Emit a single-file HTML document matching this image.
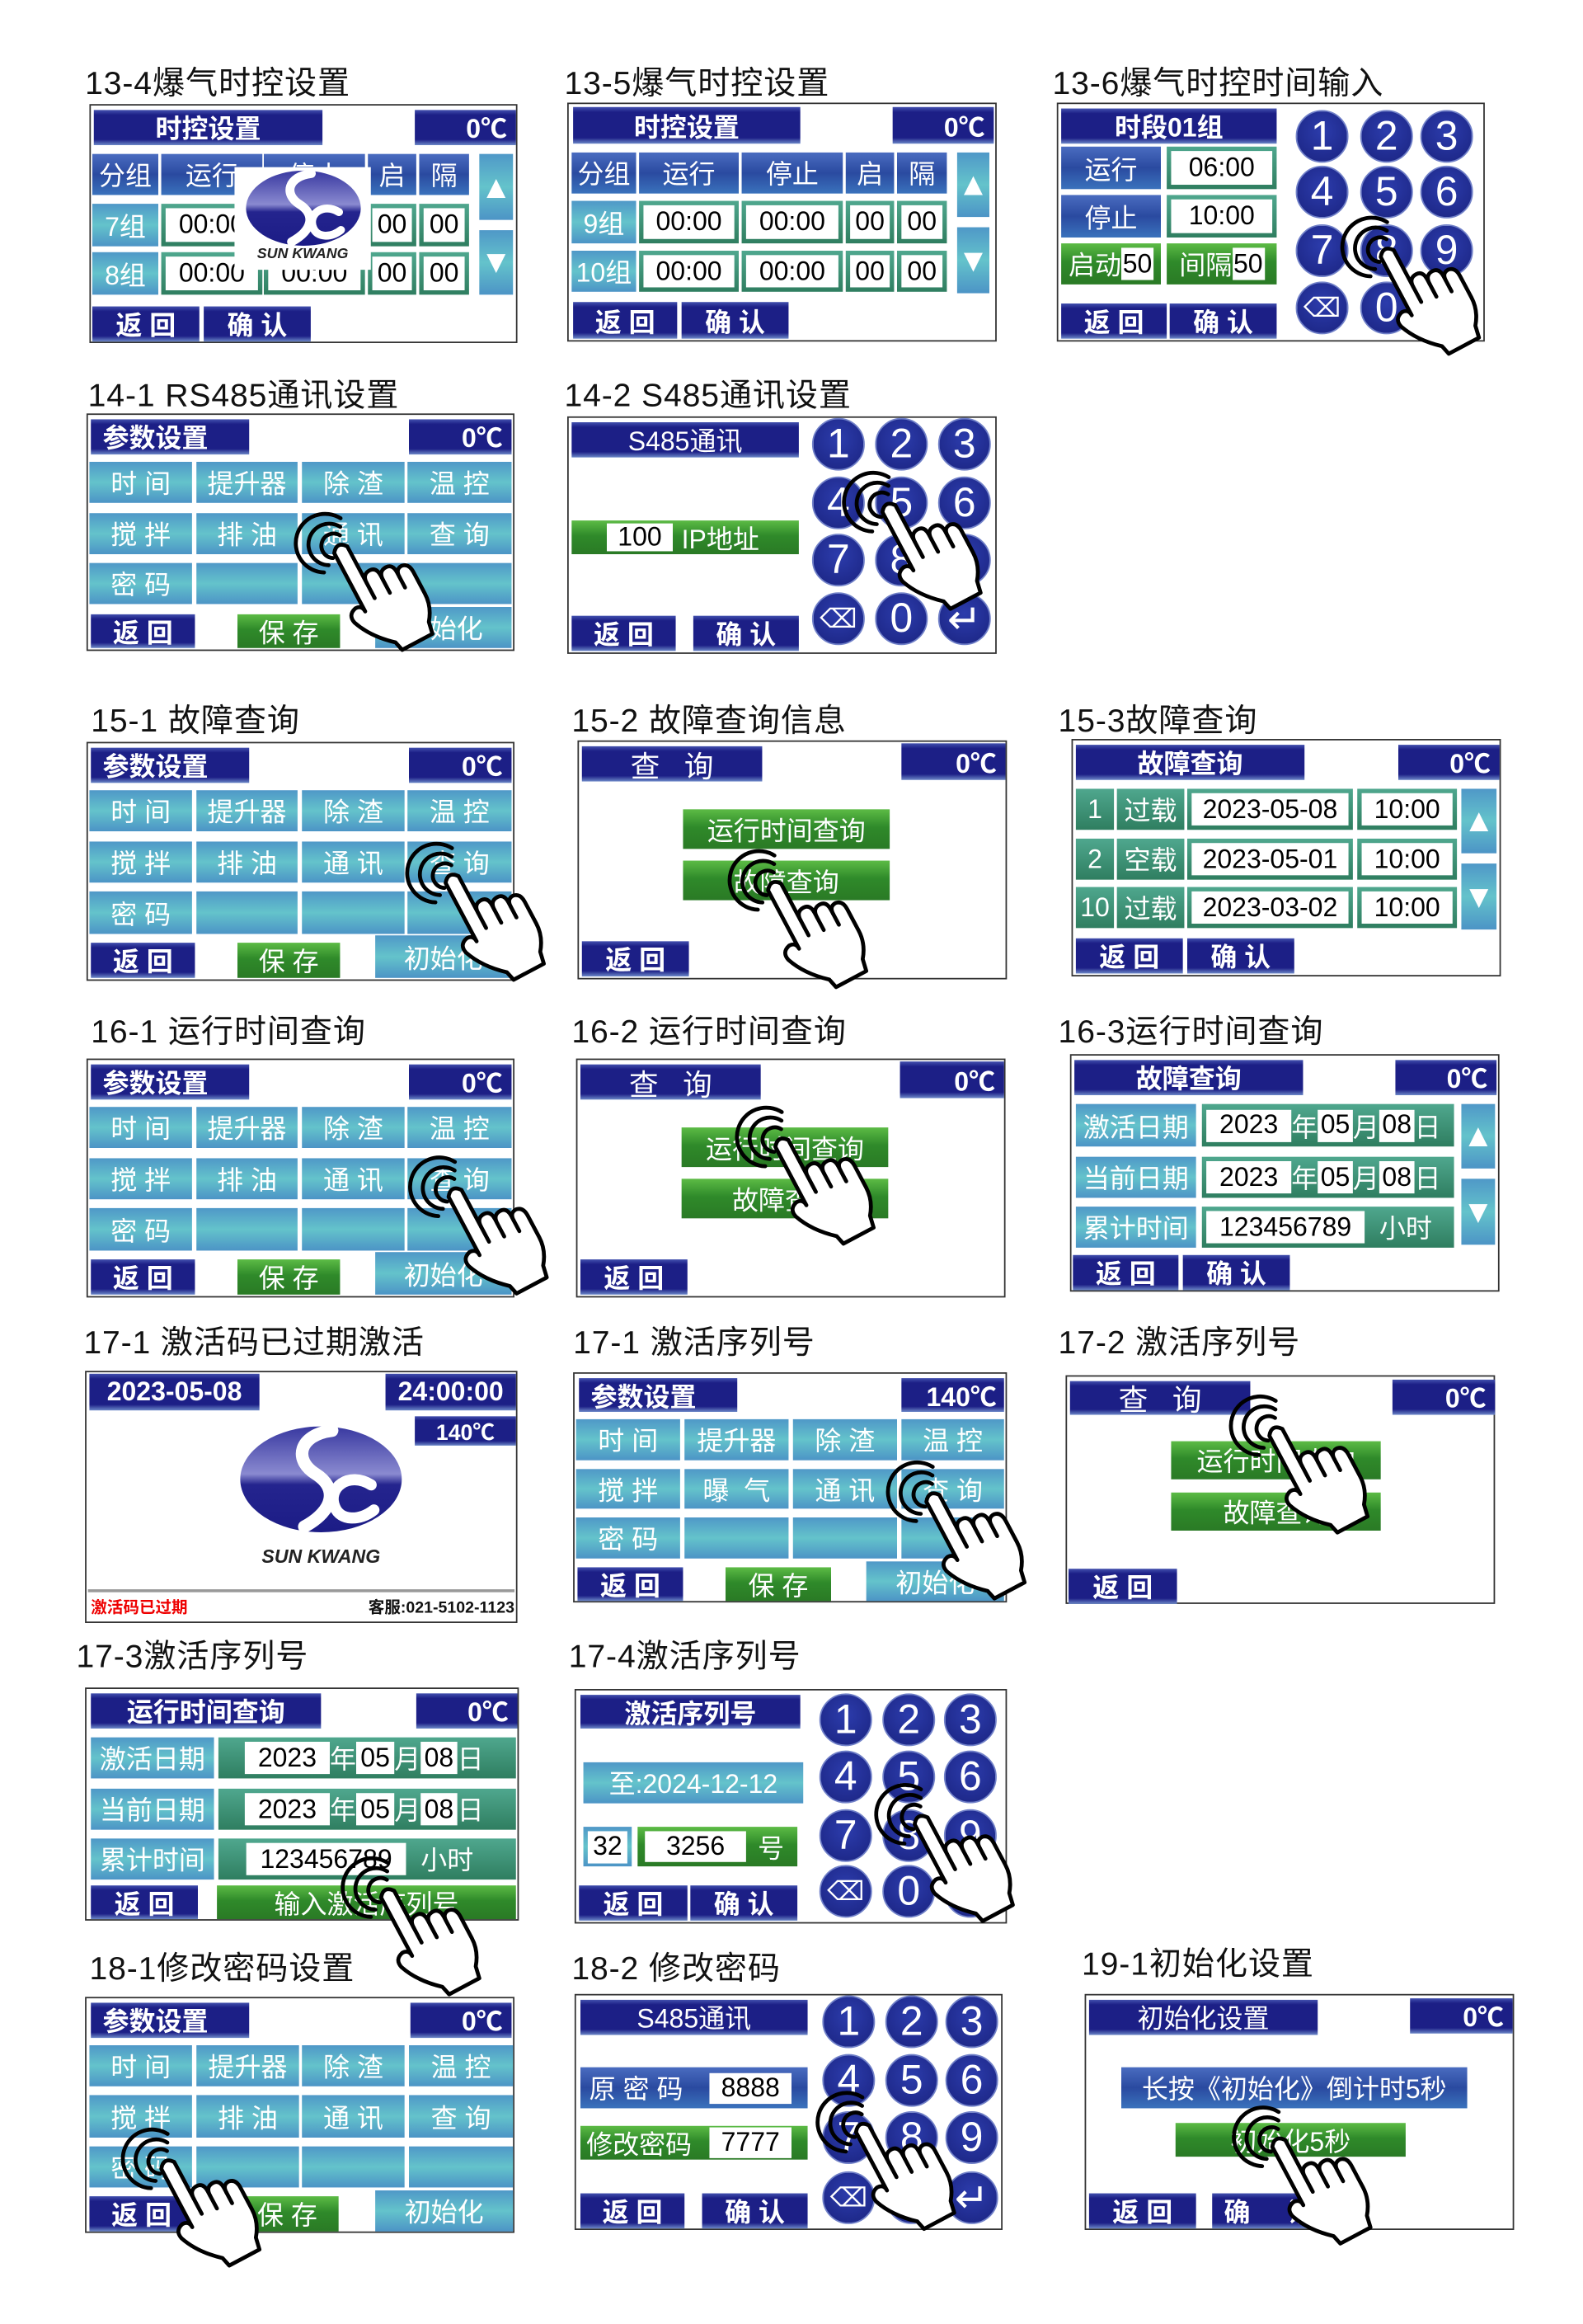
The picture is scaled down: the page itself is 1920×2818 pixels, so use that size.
<!DOCTYPE html>
<html><head><meta charset="utf-8">
<style>
body{margin:0;background:#fff;width:1920px;height:2818px;overflow:hidden}
#s{position:absolute;left:0;top:0;width:1080px;height:1585px;transform:scale(1.777778);transform-origin:0 0;font-family:"Liberation Sans","Noto Sans CJK SC",sans-serif}
.t{position:absolute;font-size:22px;color:#111;white-space:nowrap;letter-spacing:0.5px}
.p{position:absolute;border:1px solid #333;background:#fff;box-sizing:border-box}
.p>div{position:absolute;display:flex;align-items:center;justify-content:center;color:#fff;box-sizing:border-box;white-space:nowrap;font-size:18px}
.d{background:linear-gradient(#4250ae,#1c1f86 14%,#1c1f86 84%,#6c88c8);font-weight:bold}
.m{background:linear-gradient(#4a6cc0,#2a4aa0 50%,#3a72bc)}
.l{background:linear-gradient(#4f98c8,#64c3cb 50%,#4c94c6)}
.g{background:linear-gradient(#4fa78e,#2f7e60)}
.gg{background:linear-gradient(#5cbb45,#2f8a2a 45%,#2a7a25)}
.w{background:#fff;color:#000;display:inline-flex;align-items:center;justify-content:center}
.g>.w{width:calc(100% - 6px);height:calc(100% - 6px)}
.p>.k{border-radius:50%;background:radial-gradient(circle at 50% 40%,#2c3cac,#1a2380);border:1.5px solid #7080c8;font-size:28px;width:36px;height:36px;margin:-1px}
.hd{position:absolute;width:125px;height:142px;overflow:visible}
</style></head><body><div id="s">
<svg width="0" height="0" style="position:absolute"><defs>
<symbol id="hd" viewBox="-40 -40 150 170" overflow="visible">
<g transform="rotate(-28 16 6)" fill="none" stroke="#000" stroke-width="3.2" stroke-linecap="round">
<path d="M21,-2.7 A10,10 0 1,0 7.3,11"/>
<path d="M24.5,-8.7 A17,17 0 1,0 1.3,14.5"/>
<path d="M28,-14.8 A24,24 0 1,0 -4.8,18"/>
<path fill="#fff" stroke-linejoin="round" d="M10,48 L10,8 Q16,0 22,8 L22,42 Q22,34 29,34 Q35,34 35,42 L35,46 Q35,38 42,38 Q48,38 48,46 L48,50 Q48,43 54,43 Q60,44 60,52 L60,72 Q60,84 52,94 L50,104 L22,104 L20,96 Q4,82 -2,66 Q-4,58 4,56 Q10,56 10,62 Z"/>
<path d="M22,42 L22,56 M35,46 L35,58 M48,50 L48,60"/>
</g></symbol>
<symbol id="lg" viewBox="0 0 120 80">
<defs><linearGradient id="lgg" x1="0" y1="0" x2="0" y2="1"><stop offset="0" stop-color="#3838a0"/><stop offset="0.45" stop-color="#8a8ad0"/><stop offset="0.55" stop-color="#24248e"/><stop offset="1" stop-color="#1c1c86"/></linearGradient></defs>
<ellipse cx="60" cy="40" rx="58" ry="38" fill="url(#lgg)"/>
<path d="M68,5 C44,8 40,26 56,36 C72,46 70,62 48,74" fill="none" stroke="#fff" stroke-width="9" stroke-linecap="round"/>
<path d="M96,44 C80,34 64,46 70,60 C74,70 88,70 98,62" fill="none" stroke="#fff" stroke-width="8" stroke-linecap="round"/>
</symbol>
</defs></svg>

<div class="t" style="left:58px;top:39px">13-4爆气时控设置</div>
<div class="t" style="left:385px;top:39px">13-5爆气时控设置</div>
<div class="t" style="left:718px;top:39px">13-6爆气时控时间输入</div>
<div class="t" style="left:60px;top:252px">14-1 RS485通讯设置</div>
<div class="t" style="left:385px;top:252px">14-2 S485通讯设置</div>
<div class="t" style="left:62px;top:474px">15-1 故障查询</div>
<div class="t" style="left:390px;top:474px">15-2 故障查询信息</div>
<div class="t" style="left:722px;top:474px">15-3故障查询</div>
<div class="t" style="left:62px;top:686px">16-1 运行时间查询</div>
<div class="t" style="left:390px;top:686px">16-2 运行时间查询</div>
<div class="t" style="left:722px;top:686px">16-3运行时间查询</div>
<div class="t" style="left:57px;top:898px">17-1 激活码已过期激活</div>
<div class="t" style="left:391px;top:898px">17-1 激活序列号</div>
<div class="t" style="left:722px;top:898px">17-2 激活序列号</div>
<div class="t" style="left:52px;top:1112px">17-3激活序列号</div>
<div class="t" style="left:388px;top:1112px">17-4激活序列号</div>
<div class="t" style="left:61px;top:1325px">18-1修改密码设置</div>
<div class="t" style="left:390px;top:1325px">18-2 修改密码</div>
<div class="t" style="left:738px;top:1322px">19-1初始化设置</div>

<!-- P1 -->
<div class="p" style="left:61px;top:71px;width:292px;height:163px">
<div class="d" style="left:2px;top:3px;width:156px;height:24px">时控设置</div>
<div class="d" style="left:221px;top:3px;width:69px;height:24px;justify-content:flex-end;padding-right:6px">0℃</div>
<div class="m" style="left:1px;top:33px;width:45px;height:28px">分组</div>
<div class="m" style="left:48px;top:33px;width:69px;height:28px">运行</div>
<div class="m" style="left:118px;top:33px;width:69px;height:28px">停止</div>
<div class="m" style="left:189px;top:33px;width:33px;height:28px">启</div>
<div class="m" style="left:224px;top:33px;width:34px;height:28px">隔</div>
<div class="l" style="left:1px;top:67px;width:45px;height:29px">7组</div>
<div class="g" style="left:48px;top:67px;width:69px;height:29px"><span class="w">00:00</span></div>
<div class="g" style="left:118px;top:67px;width:69px;height:29px"><span class="w">00:00</span></div>
<div class="g" style="left:189px;top:67px;width:33px;height:29px"><span class="w">00</span></div>
<div class="g" style="left:224px;top:67px;width:34px;height:29px"><span class="w">00</span></div>
<div class="l" style="left:1px;top:100px;width:45px;height:29px">8组</div>
<div class="g" style="left:48px;top:100px;width:69px;height:29px"><span class="w">00:00</span></div>
<div class="g" style="left:118px;top:100px;width:69px;height:29px"><span class="w">00:00</span></div>
<div class="g" style="left:189px;top:100px;width:33px;height:29px"><span class="w">00</span></div>
<div class="g" style="left:224px;top:100px;width:34px;height:29px"><span class="w">00</span></div>
<div class="l" style="left:265px;top:33px;width:23px;height:45px;font-size:22px">▲</div>
<div class="l" style="left:265px;top:85px;width:23px;height:44px;font-size:22px">▼</div>
<div class="d" style="left:1px;top:137px;width:73px;height:24px">返 回</div>
<div class="d" style="left:77px;top:137px;width:73px;height:24px">确 认</div>
<div style="left:98px;top:42px;width:93px;height:70px;background:#fff;display:block">
<svg style="position:absolute;left:6px;top:1px" width="82" height="54"><use href="#lg"/></svg>
<span style="position:absolute;left:0;top:54px;width:93px;text-align:center;color:#222;font-size:10px;font-weight:bold;font-style:italic">SUN KWANG</span></div>
</div>

<!-- P2 -->
<div class="p" style="left:387px;top:70px;width:293px;height:163px">
<div class="d" style="left:3px;top:2px;width:155px;height:25px">时控设置</div>
<div class="d" style="left:221px;top:2px;width:69px;height:25px;justify-content:flex-end;padding-right:6px">0℃</div>
<div class="m" style="left:2px;top:33px;width:44px;height:28px">分组</div>
<div class="m" style="left:48px;top:33px;width:68px;height:28px">运行</div>
<div class="m" style="left:118px;top:33px;width:69px;height:28px">停止</div>
<div class="m" style="left:189px;top:33px;width:33px;height:28px">启</div>
<div class="m" style="left:224px;top:33px;width:34px;height:28px">隔</div>
<div class="l" style="left:2px;top:66px;width:44px;height:29px">9组</div>
<div class="g" style="left:48px;top:66px;width:68px;height:29px"><span class="w">00:00</span></div>
<div class="g" style="left:118px;top:66px;width:69px;height:29px"><span class="w">00:00</span></div>
<div class="g" style="left:189px;top:66px;width:33px;height:29px"><span class="w">00</span></div>
<div class="g" style="left:224px;top:66px;width:34px;height:29px"><span class="w">00</span></div>
<div class="l" style="left:2px;top:100px;width:44px;height:28px">10组</div>
<div class="g" style="left:48px;top:100px;width:68px;height:28px"><span class="w">00:00</span></div>
<div class="g" style="left:118px;top:100px;width:69px;height:28px"><span class="w">00:00</span></div>
<div class="g" style="left:189px;top:100px;width:33px;height:28px"><span class="w">00</span></div>
<div class="g" style="left:224px;top:100px;width:34px;height:28px"><span class="w">00</span></div>
<div class="l" style="left:265px;top:33px;width:22px;height:44px;font-size:22px">▲</div>
<div class="l" style="left:265px;top:84px;width:22px;height:45px;font-size:22px">▼</div>
<div class="d" style="left:3px;top:135px;width:71px;height:25px">返 回</div>
<div class="d" style="left:77px;top:135px;width:73px;height:25px">确 认</div>
</div>

<!-- P3 -->
<div class="p" style="left:721px;top:70px;width:292px;height:163px">
<div class="d" style="left:2px;top:3px;width:147px;height:24px">时段01组</div>
<div class="m" style="left:2px;top:29px;width:68px;height:29px">运行</div>
<div class="g" style="left:74px;top:29px;width:75px;height:29px"><span class="w">06:00</span></div>
<div class="m" style="left:2px;top:62px;width:68px;height:29px">停止</div>
<div class="g" style="left:74px;top:62px;width:75px;height:29px"><span class="w">10:00</span></div>
<div class="gg" style="left:2px;top:95px;width:68px;height:28px">启动<span class="w" style="width:22px;height:22px">50</span></div>
<div class="gg" style="left:74px;top:95px;width:75px;height:28px">间隔<span class="w" style="width:22px;height:22px">50</span></div>
<div class="d" style="left:2px;top:136px;width:72px;height:24px">返 回</div>
<div class="d" style="left:76px;top:136px;width:73px;height:24px">确 认</div>
<div class="k" style="left:163px;top:5px">1</div><div class="k" style="left:207px;top:5px">2</div><div class="k" style="left:248px;top:5px">3</div>
<div class="k" style="left:163px;top:43px">4</div><div class="k" style="left:207px;top:43px">5</div><div class="k" style="left:248px;top:43px">6</div>
<div class="k" style="left:163px;top:83px">7</div><div class="k" style="left:207px;top:83px">8</div><div class="k" style="left:248px;top:83px">9</div>
<div class="k" style="left:163px;top:122px;font-size:18px">⌫</div><div class="k" style="left:207px;top:122px">0</div><div class="k" style="left:248px;top:122px">↵</div>
</div>

<!-- P4 -->
<div class="p" style="left:59px;top:282px;width:292px;height:162px">
<div class="d" style="left:2px;top:3px;width:108px;height:24px;justify-content:flex-start;padding-left:8px">参数设置</div>
<div class="d" style="left:219px;top:3px;width:70px;height:24px;justify-content:flex-end;padding-right:6px">0℃</div>
<div class="l" style="left:1px;top:32px;width:70px;height:28px">时 间</div><div class="l" style="left:74px;top:32px;width:69px;height:28px">提升器</div><div class="l" style="left:146px;top:32px;width:70px;height:28px">除 渣</div><div class="l" style="left:218px;top:32px;width:71px;height:28px">温 控</div>
<div class="l" style="left:1px;top:67px;width:70px;height:28px">搅 拌</div><div class="l" style="left:74px;top:67px;width:69px;height:28px">排 油</div><div class="l" style="left:146px;top:67px;width:70px;height:28px">通 讯</div><div class="l" style="left:218px;top:67px;width:71px;height:28px">查 询</div>
<div class="l" style="left:1px;top:101px;width:70px;height:28px">密 码</div><div class="l" style="left:74px;top:101px;width:69px;height:28px"></div><div class="l" style="left:146px;top:101px;width:70px;height:28px"></div><div class="l" style="left:218px;top:101px;width:71px;height:28px"></div>
<div class="d" style="left:2px;top:136px;width:71px;height:23px">返 回</div>
<div class="gg" style="left:102px;top:136px;width:70px;height:23px">保 存</div>
<div class="l" style="left:196px;top:131px;width:93px;height:28px">初始化</div>
</div>

<!-- P5 -->
<div class="p" style="left:387px;top:284px;width:293px;height:162px">
<div class="d" style="left:2px;top:3px;width:155px;height:24px;font-weight:normal">S485通讯</div>
<div class="gg" style="left:2px;top:70px;width:155px;height:23px;justify-content:flex-start;padding-left:24px"><span class="w" style="width:45px;height:19px;margin-right:6px">100</span>IP地址</div>
<div class="d" style="left:2px;top:135px;width:71px;height:24px">返 回</div>
<div class="d" style="left:85px;top:135px;width:72px;height:24px">确 认</div>
<div class="k" style="left:167px;top:1px">1</div><div class="k" style="left:210px;top:1px">2</div><div class="k" style="left:253px;top:1px">3</div>
<div class="k" style="left:167px;top:41px">4</div><div class="k" style="left:210px;top:41px">5</div><div class="k" style="left:253px;top:41px">6</div>
<div class="k" style="left:167px;top:80px">7</div><div class="k" style="left:210px;top:80px">8</div><div class="k" style="left:253px;top:80px">9</div>
<div class="k" style="left:167px;top:120px;font-size:18px">⌫</div><div class="k" style="left:210px;top:120px">0</div><div class="k" style="left:253px;top:120px">↵</div>
</div>

<!-- P6 -->
<div class="p" style="left:59px;top:506px;width:292px;height:163px">
<div class="d" style="left:2px;top:3px;width:108px;height:24px;justify-content:flex-start;padding-left:8px">参数设置</div>
<div class="d" style="left:219px;top:3px;width:70px;height:24px;justify-content:flex-end;padding-right:6px">0℃</div>
<div class="l" style="left:1px;top:32px;width:70px;height:28px">时 间</div><div class="l" style="left:74px;top:32px;width:69px;height:28px">提升器</div><div class="l" style="left:146px;top:32px;width:70px;height:28px">除 渣</div><div class="l" style="left:218px;top:32px;width:71px;height:28px">温 控</div>
<div class="l" style="left:1px;top:67px;width:70px;height:28px">搅 拌</div><div class="l" style="left:74px;top:67px;width:69px;height:28px">排 油</div><div class="l" style="left:146px;top:67px;width:70px;height:28px">通 讯</div><div class="l" style="left:218px;top:67px;width:71px;height:28px">查 询</div>
<div class="l" style="left:1px;top:101px;width:70px;height:29px">密 码</div><div class="l" style="left:74px;top:101px;width:69px;height:29px"></div><div class="l" style="left:146px;top:101px;width:70px;height:29px"></div><div class="l" style="left:218px;top:101px;width:71px;height:29px"></div>
<div class="d" style="left:2px;top:136px;width:71px;height:24px">返 回</div>
<div class="gg" style="left:102px;top:136px;width:70px;height:24px">保 存</div>
<div class="l" style="left:196px;top:131px;width:93px;height:29px">初始化</div>
</div>

<!-- P7 -->
<div class="p" style="left:394px;top:505px;width:293px;height:163px">
<div class="d" style="left:2px;top:3px;width:123px;height:24px;font-weight:normal;font-size:20px">查&nbsp;&nbsp;&nbsp;询</div>
<div class="d" style="left:220px;top:1px;width:71px;height:25px;justify-content:flex-end;padding-right:6px">0℃</div>
<div class="gg" style="left:71px;top:46px;width:141px;height:27px">运行时间查询</div>
<div class="gg" style="left:71px;top:81px;width:141px;height:27px">故障查询</div>
<div class="d" style="left:2px;top:136px;width:73px;height:24px">返 回</div>
</div>

<!-- P8 -->
<div class="p" style="left:731px;top:504px;width:293px;height:162px">
<div class="d" style="left:2px;top:3px;width:156px;height:24px">故障查询</div>
<div class="d" style="left:222px;top:3px;width:69px;height:24px;justify-content:flex-end;padding-right:6px">0℃</div>
<div class="g" style="left:2px;top:33px;width:26px;height:28px">1</div>
<div class="g" style="left:30px;top:33px;width:46px;height:28px">过载</div>
<div class="g" style="left:78px;top:33px;width:113px;height:28px"><span class="w">2023-05-08</span></div>
<div class="g" style="left:194px;top:33px;width:68px;height:28px"><span class="w">10:00</span></div>
<div class="g" style="left:2px;top:67px;width:26px;height:28px">2</div>
<div class="g" style="left:30px;top:67px;width:46px;height:28px">空载</div>
<div class="g" style="left:78px;top:67px;width:113px;height:28px"><span class="w">2023-05-01</span></div>
<div class="g" style="left:194px;top:67px;width:68px;height:28px"><span class="w">10:00</span></div>
<div class="g" style="left:2px;top:100px;width:26px;height:28px">10</div>
<div class="g" style="left:30px;top:100px;width:46px;height:28px">过载</div>
<div class="g" style="left:78px;top:100px;width:113px;height:28px"><span class="w">2023-03-02</span></div>
<div class="g" style="left:194px;top:100px;width:68px;height:28px"><span class="w">10:00</span></div>
<div class="l" style="left:265px;top:33px;width:24px;height:44px;font-size:22px">▲</div>
<div class="l" style="left:265px;top:84px;width:24px;height:45px;font-size:22px">▼</div>
<div class="d" style="left:2px;top:135px;width:73px;height:24px">返 回</div>
<div class="d" style="left:78px;top:135px;width:73px;height:24px">确 认</div>
</div>

<!-- P9 -->
<div class="p" style="left:59px;top:722px;width:292px;height:163px">
<div class="d" style="left:2px;top:3px;width:108px;height:24px;justify-content:flex-start;padding-left:8px">参数设置</div>
<div class="d" style="left:219px;top:3px;width:70px;height:24px;justify-content:flex-end;padding-right:6px">0℃</div>
<div class="l" style="left:1px;top:32px;width:70px;height:28px">时 间</div><div class="l" style="left:74px;top:32px;width:69px;height:28px">提升器</div><div class="l" style="left:146px;top:32px;width:70px;height:28px">除 渣</div><div class="l" style="left:218px;top:32px;width:71px;height:28px">温 控</div>
<div class="l" style="left:1px;top:67px;width:70px;height:28px">搅 拌</div><div class="l" style="left:74px;top:67px;width:69px;height:28px">排 油</div><div class="l" style="left:146px;top:67px;width:70px;height:28px">通 讯</div><div class="l" style="left:218px;top:67px;width:71px;height:28px">查 询</div>
<div class="l" style="left:1px;top:101px;width:70px;height:29px">密 码</div><div class="l" style="left:74px;top:101px;width:69px;height:29px"></div><div class="l" style="left:146px;top:101px;width:70px;height:29px"></div><div class="l" style="left:218px;top:101px;width:71px;height:29px"></div>
<div class="d" style="left:2px;top:136px;width:71px;height:24px">返 回</div>
<div class="gg" style="left:102px;top:136px;width:70px;height:24px">保 存</div>
<div class="l" style="left:196px;top:131px;width:93px;height:29px">初始化</div>
</div>

<!-- P10 -->
<div class="p" style="left:393px;top:722px;width:293px;height:163px">
<div class="d" style="left:2px;top:3px;width:123px;height:24px;font-weight:normal;font-size:20px">查&nbsp;&nbsp;&nbsp;询</div>
<div class="d" style="left:220px;top:1px;width:71px;height:25px;justify-content:flex-end;padding-right:6px">0℃</div>
<div class="gg" style="left:71px;top:46px;width:141px;height:27px">运行时间查询</div>
<div class="gg" style="left:71px;top:81px;width:141px;height:27px">故障查询</div>
<div class="d" style="left:2px;top:136px;width:73px;height:24px">返 回</div>
</div>

<!-- P11 -->
<div class="p" style="left:730px;top:719px;width:293px;height:162px">
<div class="d" style="left:2px;top:3px;width:156px;height:24px">故障查询</div>
<div class="d" style="left:221px;top:3px;width:69px;height:24px;justify-content:flex-end;padding-right:6px">0℃</div>
<div class="l" style="left:3px;top:33px;width:82px;height:29px">激活日期</div>
<div class="g" style="left:89px;top:33px;width:172px;height:29px;justify-content:flex-start;padding-left:3px"><span class="w" style="width:58px;height:22px">2023</span>年<span class="w" style="width:24px;height:22px">05</span>月<span class="w" style="width:24px;height:22px">08</span>日</div>
<div class="l" style="left:3px;top:69px;width:82px;height:28px">当前日期</div>
<div class="g" style="left:89px;top:69px;width:172px;height:28px;justify-content:flex-start;padding-left:3px"><span class="w" style="width:58px;height:22px">2023</span>年<span class="w" style="width:24px;height:22px">05</span>月<span class="w" style="width:24px;height:22px">08</span>日</div>
<div class="l" style="left:3px;top:103px;width:82px;height:28px">累计时间</div>
<div class="g" style="left:89px;top:103px;width:172px;height:28px;justify-content:flex-start;padding-left:3px"><span class="w" style="width:108px;height:22px">123456789</span>&nbsp;&nbsp;小时</div>
<div class="l" style="left:266px;top:33px;width:23px;height:44px;font-size:22px">▲</div>
<div class="l" style="left:266px;top:84px;width:23px;height:45px;font-size:22px">▼</div>
<div class="d" style="left:1px;top:136px;width:72px;height:24px">返 回</div>
<div class="d" style="left:76px;top:136px;width:73px;height:24px">确 认</div>
</div>

<!-- P12 -->
<div class="p" style="left:58px;top:935px;width:295px;height:172px">
<div class="d" style="left:2px;top:1px;width:116px;height:25px">2023-05-08</div>
<div class="d" style="left:204px;top:1px;width:89px;height:25px">24:00:00</div>
<div class="d" style="left:224px;top:30px;width:69px;height:20px;font-size:15px">140℃</div>
<div style="left:102px;top:35px;width:116px;height:76px;display:block"><svg width="116" height="76"><use href="#lg"/></svg></div>
<div style="left:60px;top:115px;width:200px;height:20px;color:#222;font-size:13px;font-weight:bold;font-style:italic">SUN KWANG</div>
<div style="left:1px;top:148px;width:291px;height:1.5px;background:#999"></div>
<div style="left:3px;top:152px;height:16px;color:#e00;font-size:11px;font-weight:bold">激活码已过期</div>
<div style="left:140px;top:152px;width:152px;height:16px;color:#111;font-size:11px;font-weight:bold;justify-content:flex-end">客服:021-5102-1123</div>
</div>

<!-- P13 -->
<div class="p" style="left:391px;top:936px;width:296px;height:157px">
<div class="d" style="left:3px;top:3px;width:108px;height:23px;justify-content:flex-start;padding-left:8px">参数设置</div>
<div class="d" style="left:223px;top:3px;width:70px;height:23px;justify-content:flex-end;padding-right:5px">140℃</div>
<div class="l" style="left:1px;top:31px;width:71px;height:28px">时 间</div><div class="l" style="left:75px;top:31px;width:71px;height:28px">提升器</div><div class="l" style="left:149px;top:31px;width:71px;height:28px">除 渣</div><div class="l" style="left:223px;top:31px;width:70px;height:28px">温 控</div>
<div class="l" style="left:1px;top:65px;width:71px;height:27px">搅 拌</div><div class="l" style="left:75px;top:65px;width:71px;height:27px">曝 &nbsp;气</div><div class="l" style="left:149px;top:65px;width:71px;height:27px">通 讯</div><div class="l" style="left:223px;top:65px;width:70px;height:27px">查 询</div>
<div class="l" style="left:1px;top:98px;width:71px;height:28px">密 码</div><div class="l" style="left:75px;top:98px;width:71px;height:28px"></div><div class="l" style="left:149px;top:98px;width:71px;height:28px"></div><div class="l" style="left:223px;top:98px;width:70px;height:28px"></div>
<div class="d" style="left:2px;top:132px;width:72px;height:23px">返 回</div>
<div class="gg" style="left:103px;top:132px;width:72px;height:23px">保 存</div>
<div class="l" style="left:199px;top:128px;width:94px;height:27px">初始化</div>
</div>

<!-- P14 -->
<div class="p" style="left:727px;top:938px;width:293px;height:156px">
<div class="d" style="left:2px;top:3px;width:123px;height:23px;font-weight:normal;font-size:20px">查&nbsp;&nbsp;&nbsp;询</div>
<div class="d" style="left:222px;top:2px;width:70px;height:24px;justify-content:flex-end;padding-right:6px">0℃</div>
<div class="gg" style="left:71px;top:44px;width:143px;height:26px">运行时间查询</div>
<div class="gg" style="left:71px;top:79px;width:143px;height:26px">故障查询</div>
<div class="d" style="left:1px;top:131px;width:74px;height:24px">返 回</div>
</div>

<!-- P15 -->
<div class="p" style="left:58px;top:1151px;width:296px;height:159px">
<div class="d" style="left:3px;top:3px;width:157px;height:24px">运行时间查询</div>
<div class="d" style="left:225px;top:3px;width:69px;height:24px;justify-content:flex-end;padding-right:6px">0℃</div>
<div class="l" style="left:3px;top:33px;width:84px;height:28px">激活日期</div>
<div class="g" style="left:90px;top:33px;width:203px;height:28px;justify-content:flex-start;padding-left:18px"><span class="w" style="width:58px;height:22px">2023</span>年<span class="w" style="width:26px;height:22px">05</span>月<span class="w" style="width:25px;height:22px">08</span>日</div>
<div class="l" style="left:3px;top:68px;width:84px;height:28px">当前日期</div>
<div class="g" style="left:90px;top:68px;width:203px;height:28px;justify-content:flex-start;padding-left:18px"><span class="w" style="width:58px;height:22px">2023</span>年<span class="w" style="width:26px;height:22px">05</span>月<span class="w" style="width:25px;height:22px">08</span>日</div>
<div class="l" style="left:3px;top:102px;width:84px;height:28px">累计时间</div>
<div class="g" style="left:90px;top:102px;width:203px;height:28px;justify-content:flex-start;padding-left:19px"><span class="w" style="width:109px;height:22px">123456789</span>&nbsp;&nbsp;小时</div>
<div class="d" style="left:3px;top:134px;width:73px;height:23px">返 回</div>
<div class="gg" style="left:89px;top:134px;width:204px;height:23px">输入激活序列号</div>
</div>

<!-- P16 -->
<div class="p" style="left:392px;top:1152px;width:295px;height:160px">
<div class="d" style="left:3px;top:3px;width:150px;height:23px">激活序列号</div>
<div class="l" style="left:5px;top:49px;width:150px;height:28px">至:2024-12-12</div>
<div class="l" style="left:5px;top:93px;width:33px;height:27px"><span class="w" style="width:27px;height:22px">32</span></div>
<div class="gg" style="left:42px;top:93px;width:109px;height:27px;justify-content:flex-start;padding-left:5px"><span class="w" style="width:69px;height:21px;margin-right:8px">3256</span>号</div>
<div class="d" style="left:2px;top:133px;width:74px;height:24px">返 回</div>
<div class="d" style="left:78px;top:133px;width:73px;height:24px">确 认</div>
<div class="k" style="left:167px;top:3px">1</div><div class="k" style="left:210px;top:3px">2</div><div class="k" style="left:252px;top:3px">3</div>
<div class="k" style="left:167px;top:42px">4</div><div class="k" style="left:210px;top:42px">5</div><div class="k" style="left:252px;top:42px">6</div>
<div class="k" style="left:167px;top:82px">7</div><div class="k" style="left:210px;top:82px">8</div><div class="k" style="left:252px;top:82px">9</div>
<div class="k" style="left:167px;top:120px;font-size:18px">⌫</div><div class="k" style="left:210px;top:120px">0</div><div class="k" style="left:252px;top:120px">↵</div>
</div>

<!-- P17 -->
<div class="p" style="left:58px;top:1362px;width:293px;height:161px">
<div class="d" style="left:3px;top:3px;width:108px;height:24px;justify-content:flex-start;padding-left:8px">参数设置</div>
<div class="d" style="left:221px;top:3px;width:69px;height:24px;justify-content:flex-end;padding-right:6px">0℃</div>
<div class="l" style="left:2px;top:32px;width:70px;height:28px">时 间</div><div class="l" style="left:75px;top:32px;width:70px;height:28px">提升器</div><div class="l" style="left:147px;top:32px;width:70px;height:28px">除 渣</div><div class="l" style="left:220px;top:32px;width:71px;height:28px">温 控</div>
<div class="l" style="left:2px;top:66px;width:70px;height:29px">搅 拌</div><div class="l" style="left:75px;top:66px;width:70px;height:29px">排 油</div><div class="l" style="left:147px;top:66px;width:70px;height:29px">通 讯</div><div class="l" style="left:220px;top:66px;width:71px;height:29px">查 询</div>
<div class="l" style="left:2px;top:101px;width:70px;height:28px">密 码</div><div class="l" style="left:75px;top:101px;width:70px;height:28px"></div><div class="l" style="left:147px;top:101px;width:70px;height:28px"></div><div class="l" style="left:220px;top:101px;width:71px;height:28px"></div>
<div class="d" style="left:2px;top:135px;width:71px;height:24px">返 回</div>
<div class="gg" style="left:102px;top:135px;width:70px;height:24px">保 存</div>
<div class="l" style="left:197px;top:131px;width:94px;height:28px">初始化</div>
</div>

<!-- P18 -->
<div class="p" style="left:392px;top:1360px;width:292px;height:161px">
<div class="d" style="left:3px;top:3px;width:155px;height:24px;font-weight:normal">S485通讯</div>
<div class="m" style="left:3px;top:49px;width:155px;height:28px;justify-content:flex-start;padding-left:6px">原 密 码<span class="w" style="position:absolute;left:88px;width:56px;height:21px">8888</span></div>
<div class="gg" style="left:3px;top:89px;width:155px;height:23px;justify-content:flex-start;padding-left:4px">修改密码<span class="w" style="position:absolute;left:88px;width:56px;height:21px">7777</span></div>
<div class="d" style="left:3px;top:135px;width:71px;height:24px">返 回</div>
<div class="d" style="left:86px;top:135px;width:72px;height:24px">确 认</div>
<div class="k" style="left:169px;top:1px">1</div><div class="k" style="left:212px;top:1px">2</div><div class="k" style="left:253px;top:1px">3</div>
<div class="k" style="left:169px;top:41px">4</div><div class="k" style="left:212px;top:41px">5</div><div class="k" style="left:253px;top:41px">6</div>
<div class="k" style="left:169px;top:80px">7</div><div class="k" style="left:212px;top:80px">8</div><div class="k" style="left:253px;top:80px">9</div>
<div class="k" style="left:169px;top:121px;font-size:18px">⌫</div><div class="k" style="left:212px;top:121px">0</div><div class="k" style="left:253px;top:121px">↵</div>
</div>

<!-- P19 -->
<div class="p" style="left:740px;top:1360px;width:293px;height:161px">
<div class="d" style="left:2px;top:3px;width:156px;height:24px;font-weight:normal">初始化设置</div>
<div class="d" style="left:221px;top:2px;width:70px;height:24px;justify-content:flex-end;padding-right:6px">0℃</div>
<div class="m" style="left:24px;top:49px;width:236px;height:28px">长按《初始化》倒计时5秒</div>
<div class="gg" style="left:61px;top:87px;width:157px;height:23px">初始化5秒</div>
<div class="d" style="left:2px;top:135px;width:73px;height:24px">返 回</div>
<div class="d" style="left:86px;top:135px;width:73px;height:24px;justify-content:flex-start;padding-left:8px">确&nbsp;&nbsp;&nbsp;&nbsp;&nbsp;认</div>
</div>

<!-- hands -->
<svg class="hd" style="left:899px;top:133px" viewBox="-40 -40 150 170"><use href="#hd" x="-40" y="-40"/></svg>
<svg class="hd" style="left:185px;top:335px" viewBox="-40 -40 150 170"><use href="#hd" x="-40" y="-40"/></svg>
<svg class="hd" style="left:559px;top:307px" viewBox="-40 -40 150 170"><use href="#hd" x="-40" y="-40"/></svg>
<svg class="hd" style="left:261px;top:560px" viewBox="-40 -40 150 170"><use href="#hd" x="-40" y="-40"/></svg>
<svg class="hd" style="left:481px;top:565px" viewBox="-40 -40 150 170"><use href="#hd" x="-40" y="-40"/></svg>
<svg class="hd" style="left:263px;top:774px" viewBox="-40 -40 150 170"><use href="#hd" x="-40" y="-40"/></svg>
<svg class="hd" style="left:486px;top:740px" viewBox="-40 -40 150 170"><use href="#hd" x="-40" y="-40"/></svg>
<svg class="hd" style="left:589px;top:982px" viewBox="-40 -40 150 170"><use href="#hd" x="-40" y="-40"/></svg>
<svg class="hd" style="left:823px;top:937px" viewBox="-40 -40 150 170"><use href="#hd" x="-40" y="-40"/></svg>
<svg class="hd" style="left:217px;top:1252px" viewBox="-40 -40 150 170"><use href="#hd" x="-40" y="-40"/></svg>
<svg class="hd" style="left:581px;top:1202px" viewBox="-40 -40 150 170"><use href="#hd" x="-40" y="-40"/></svg>
<svg class="hd" style="left:67px;top:1437px" viewBox="-40 -40 150 170"><use href="#hd" x="-40" y="-40"/></svg>
<svg class="hd" style="left:541px;top:1412px" viewBox="-40 -40 150 170"><use href="#hd" x="-40" y="-40"/></svg>
<svg class="hd" style="left:825px;top:1422px" viewBox="-40 -40 150 170"><use href="#hd" x="-40" y="-40"/></svg>
</div></body></html>
